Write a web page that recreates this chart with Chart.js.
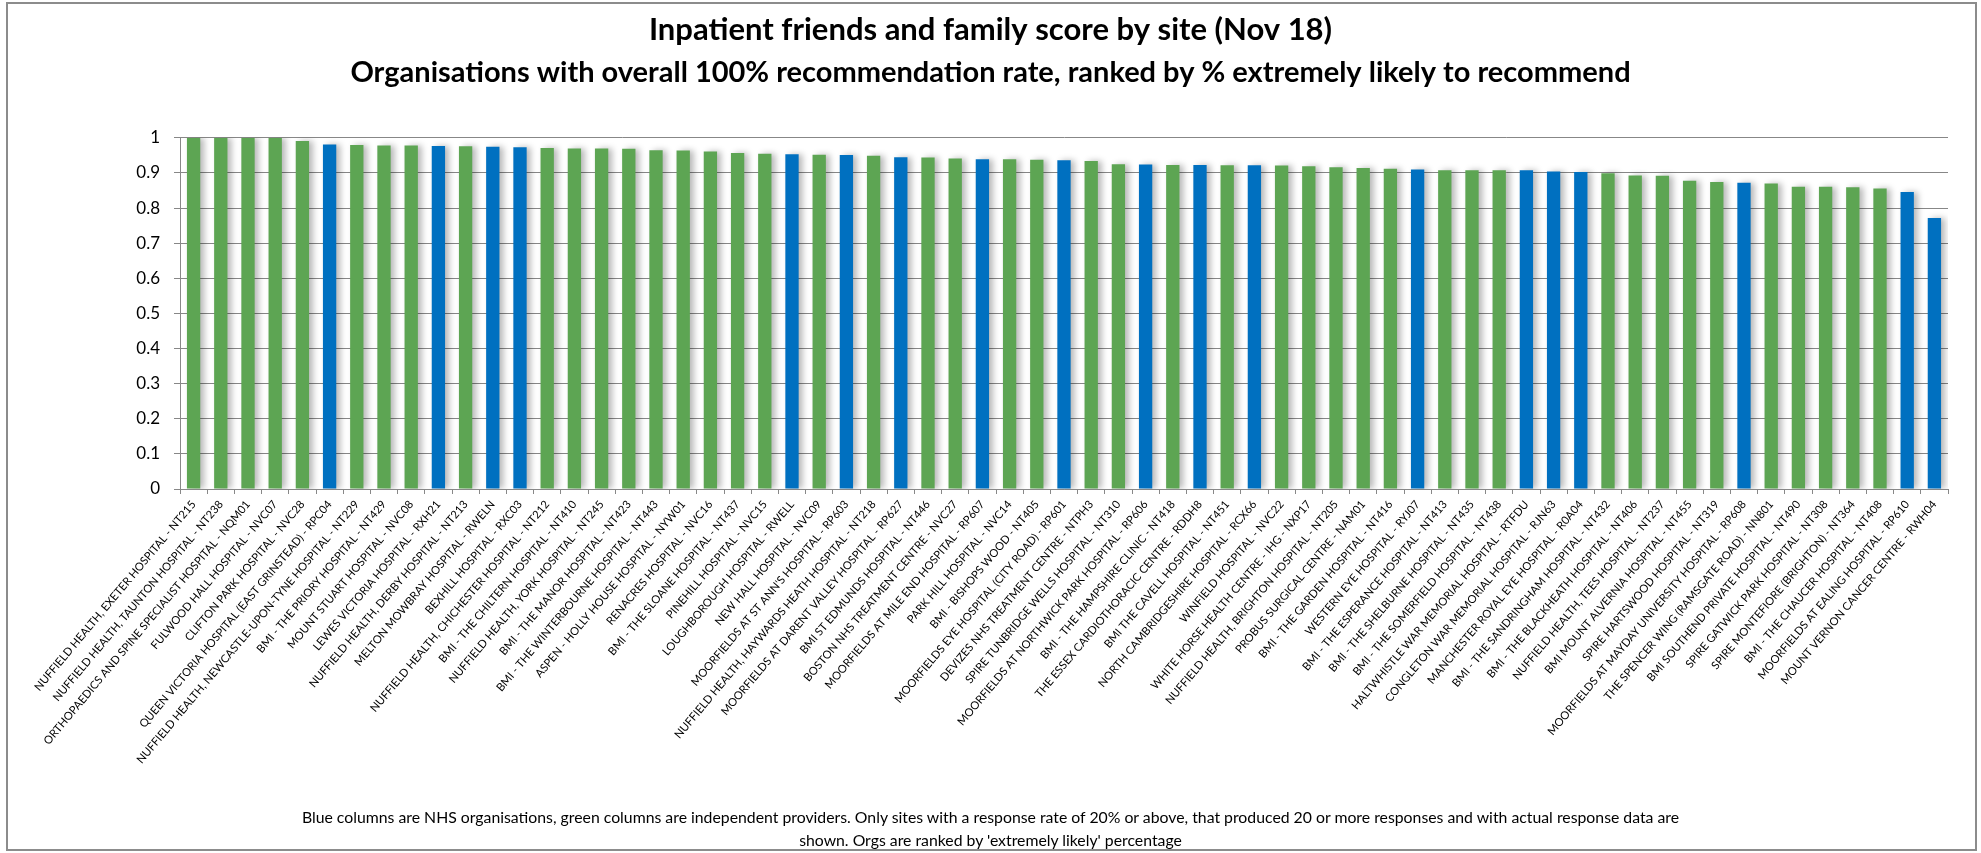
<!DOCTYPE html>
<html>
<head>
<meta charset="utf-8">
<title>Inpatient friends and family score by site (Nov 18)</title>
<script src="https://cdn.jsdelivr.net/npm/chart.js@4.4.0/dist/chart.umd.min.js"></script>
<style>
    html, body { margin: 0; padding: 0; background: #fff; }
    #wrap { position: relative; width: 1981px; height: 853px; }
    #frame { position: absolute; left: 6px; top: 2px; width: 1967px; height: 845px; border: 2px solid #8c8c8c; pointer-events: none; }
    #fftChart { position: absolute; left: 0; top: 0; }
    #nota { position: absolute; left: 0; top: 805px; width: 1981px; text-align: center;
            font-family: "Lato", sans-serif; font-size: 15.8px; line-height: 23px; color: #000; }
</style>
</head>
<body>
<div id="wrap">
    <canvas id="fftChart" width="1981" height="853"></canvas>
    <div id="nota"></div>
    <div id="frame"></div>
</div>
<script>
/* ============================================================
   DATOS
============================================================ */

const sites = [
    "NUFFIELD HEALTH, EXETER HOSPITAL - NT215",
    "NUFFIELD HEALTH, TAUNTON HOSPITAL - NT238",
    "ORTHOPAEDICS AND SPINE SPECIALIST HOSPITAL - NQM01",
    "FULWOOD HALL HOSPITAL - NVC07",
    "CLIFTON PARK HOSPITAL - NVC28",
    "QUEEN VICTORIA HOSPITAL (EAST GRINSTEAD) - RPC04",
    "NUFFIELD HEALTH, NEWCASTLE-UPON-TYNE HOSPITAL - NT229",
    "BMI - THE PRIORY HOSPITAL - NT429",
    "MOUNT STUART HOSPITAL - NVC08",
    "LEWES VICTORIA HOSPITAL - RXH21",
    "NUFFIELD HEALTH, DERBY HOSPITAL - NT213",
    "MELTON MOWBRAY HOSPITAL - RWELN",
    "BEXHILL HOSPITAL - RXC03",
    "NUFFIELD HEALTH, CHICHESTER HOSPITAL - NT212",
    "BMI - THE CHILTERN HOSPITAL - NT410",
    "NUFFIELD HEALTH, YORK HOSPITAL - NT245",
    "BMI - THE MANOR HOSPITAL - NT423",
    "BMI - THE WINTERBOURNE HOSPITAL - NT443",
    "ASPEN - HOLLY HOUSE HOSPITAL - NYW01",
    "RENACRES HOSPITAL - NVC16",
    "BMI - THE SLOANE HOSPITAL - NT437",
    "PINEHILL HOSPITAL - NVC15",
    "LOUGHBOROUGH HOSPITAL - RWELL",
    "NEW HALL HOSPITAL - NVC09",
    "MOORFIELDS AT ST ANN'S HOSPITAL - RP603",
    "NUFFIELD HEALTH, HAYWARDS HEATH HOSPITAL - NT218",
    "MOORFIELDS AT DARENT VALLEY HOSPITAL - RP627",
    "BMI ST EDMUNDS HOSPITAL - NT446",
    "BOSTON NHS TREATMENT CENTRE - NVC27",
    "MOORFIELDS AT MILE END HOSPITAL - RP607",
    "PARK HILL HOSPITAL - NVC14",
    "BMI - BISHOPS WOOD - NT405",
    "MOORFIELDS EYE HOSPITAL (CITY ROAD) - RP601",
    "DEVIZES NHS TREATMENT CENTRE - NTPH3",
    "SPIRE TUNBRIDGE WELLS HOSPITAL - NT310",
    "MOORFIELDS AT NORTHWICK PARK HOSPITAL - RP606",
    "BMI - THE HAMPSHIRE CLINIC - NT418",
    "THE ESSEX CARDIOTHORACIC CENTRE - RDDH8",
    "BMI THE CAVELL HOSPITAL - NT451",
    "NORTH CAMBRIDGESHIRE HOSPITAL - RCX66",
    "WINFIELD HOSPITAL - NVC22",
    "WHITE HORSE HEALTH CENTRE - IHG - NXP17",
    "NUFFIELD HEALTH, BRIGHTON HOSPITAL - NT205",
    "PROBUS SURGICAL CENTRE - NAM01",
    "BMI - THE GARDEN HOSPITAL - NT416",
    "WESTERN EYE HOSPITAL - RYJ07",
    "BMI - THE ESPERANCE HOSPITAL - NT413",
    "BMI - THE SHELBURNE HOSPITAL - NT435",
    "BMI - THE SOMERFIELD HOSPITAL - NT438",
    "HALTWHISTLE WAR MEMORIAL HOSPITAL - RTFDU",
    "CONGLETON WAR MEMORIAL HOSPITAL - RJN63",
    "MANCHESTER ROYAL EYE HOSPITAL - R0A04",
    "BMI - THE SANDRINGHAM HOSPITAL - NT432",
    "BMI - THE BLACKHEATH HOSPITAL - NT406",
    "NUFFIELD HEALTH, TEES HOSPITAL - NT237",
    "BMI MOUNT ALVERNIA HOSPITAL - NT455",
    "SPIRE HARTSWOOD HOSPITAL - NT319",
    "MOORFIELDS AT MAYDAY UNIVERSITY HOSPITAL - RP608",
    "THE SPENCER WING (RAMSGATE ROAD) - NN801",
    "BMI SOUTHEND PRIVATE HOSPITAL - NT490",
    "SPIRE GATWICK PARK HOSPITAL - NT308",
    "SPIRE MONTEFIORE (BRIGHTON) - NT364",
    "BMI - THE CHAUCER HOSPITAL - NT408",
    "MOORFIELDS AT EALING HOSPITAL - RP610",
    "MOUNT VERNON CANCER CENTRE - RWH04"
];

// "NHS" = NHS organisation, "IND" = independent provider
const sector = [
    "IND","IND","IND","IND","IND","NHS","IND","IND","IND","NHS",
    "IND","NHS","NHS","IND","IND","IND","IND","IND","IND","IND",
    "IND","IND","NHS","IND","NHS","IND","NHS","IND","IND","NHS",
    "IND","IND","NHS","IND","IND","NHS","IND","NHS","IND","NHS",
    "IND","IND","IND","IND","IND","NHS","IND","IND","IND","NHS",
    "NHS","NHS","IND","IND","IND","IND","IND","NHS","IND","IND",
    "IND","IND","IND","NHS","NHS"
];

const extremelyLikely = [
    1.000, 1.000, 1.000, 1.000, 0.991, 0.981, 0.980, 0.978, 0.978, 0.977,
    0.976, 0.975, 0.973, 0.971, 0.970, 0.970, 0.969, 0.965, 0.964, 0.961,
    0.957, 0.955, 0.953, 0.952, 0.951, 0.949, 0.945, 0.944, 0.941, 0.939,
    0.939, 0.938, 0.936, 0.934, 0.925, 0.924, 0.923, 0.923, 0.922, 0.922,
    0.921, 0.919, 0.916, 0.914, 0.912, 0.910, 0.908, 0.908, 0.908, 0.908,
    0.904, 0.903, 0.899, 0.893, 0.892, 0.878, 0.874, 0.872, 0.870, 0.861,
    0.861, 0.859, 0.856, 0.846, 0.772
];

const titulo = "Inpatient friends and family score by site (Nov 18)";
const subtitulo = "Organisations with overall 100% recommendation rate, ranked by % extremely likely to recommend";

const notaPie = [
    "Blue columns are NHS organisations, green columns are independent providers. Only sites with a response rate of 20% or above, that produced 20 or more responses and with actual response data are",
    "shown. Orgs are ranked by 'extremely likely' percentage"
];

document.getElementById("nota").innerHTML = notaPie.join("<br>");

/* ============================================================
   SOMBRA DE BARRAS (estilo Excel)
============================================================ */

const barShadow = {
    id: "barShadow",
    beforeDatasetsDraw(chart) {
        const ctx = chart.ctx;
        ctx.save();
        ctx.shadowColor = "rgba(0,0,0,0.28)";
        ctx.shadowBlur = 6;
        ctx.shadowOffsetX = 4;
        ctx.shadowOffsetY = 0;
    },
    afterDatasetsDraw(chart) {
        chart.ctx.restore();
    }
};

/* ============================================================
   GRÁFICO
============================================================ */

const ctx = document.getElementById("fftChart");
new Chart(ctx, {
    type: "bar",
    data: {
        labels: sites,
        datasets: [{
            data: extremelyLikely,
            backgroundColor: sector.map(s => s === "NHS" ? "#0070C0" : "#5DA553"),
            categoryPercentage: 1,
            barPercentage: 0.49
        }]
    },
    options: {
        responsive: false,
        animation: false,
        layout: { padding: { left: 33, right: 33, top: 0, bottom: 57 } },
        plugins: {
            legend: { display: false },
            tooltip: { enabled: false },
            title: {
                display: true,
                text: titulo,
                color: "#000",
                font: { family: "Lato", size: 31, weight: "bold", lineHeight: 1.385 },
                padding: { top: 8.5, bottom: 0 }
            },
            subtitle: {
                display: true,
                text: subtitulo,
                color: "#000",
                font: { family: "Lato", size: 29, weight: "bold", lineHeight: 1.48 },
                padding: { top: 0, bottom: 43.5 }
            }
        },
        scales: {
            x: {
                grid: { drawOnChartArea: false, tickLength: 5, color: "#888" },
                border: { color: "#888" },
                ticks: {
                    autoSkip: false,
                    minRotation: 50,
                    maxRotation: 50,
                    padding: 4,
                    color: "#000",
                    font: { family: "Lato", size: 11.2 }
                },
                afterFit: s => { s.height = 307; }
            },
            y: {
                min: 0,
                max: 1,
                ticks: {
                    stepSize: 0.1,
                    padding: 14,
                    color: "#000",
                    font: { family: "Lato", size: 17 },
                    callback: v => String(Number(v.toFixed(1)))
                },
                grid: { color: "#878787", tickLength: 6 },
                border: { color: "#888" },
                afterFit: s => { s.width = 147; }
            }
        }
    },
    plugins: [barShadow]
});
</script>
</body>
</html>
